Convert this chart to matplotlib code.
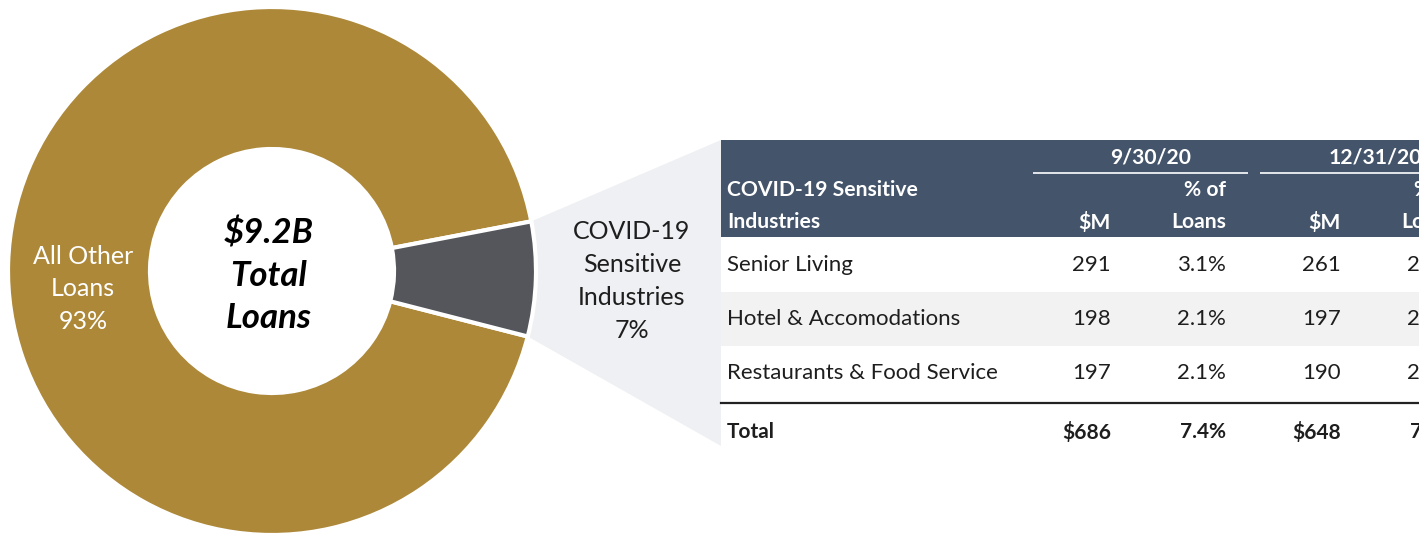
import numpy as np
import matplotlib
matplotlib.use("Agg")
import matplotlib.pyplot as plt
from matplotlib.patches import Polygon, Rectangle

plt.rcParams['font.family'] = ['Lato', 'DejaVu Sans']

# Loan mix (share of total loans, %)
slice_names = ["All Other\nLoans", "COVID-19\nSensitive\nIndustries"]
slice_pct = [93, 7]
center_label = "$9.2B\nTotal\nLoans"

# COVID-19 sensitive industries detail ($M and % of loans)
industries = ["Senior Living", "Hotel & Accomodations", "Restaurants & Food Service"]
periods = ["9/30/20", "12/31/20"]
amount_sep = [291, 198, 197]
pct_sep = [3.1, 2.1, 2.1]
amount_dec = [261, 197, 190]
pct_dec = [2.8, 2.1, 2.0]
total_pct = [7.4, 7.0]

GOLD = "#AD8838"
SLATE = "#54565B"
NAVY = "#44546A"
FAN = "#EFF0F3"
BAND = "#F2F2F2"
INK = "#1E1E1E"

W, H = 1419, 540
fig = plt.figure(figsize=(W / 100, H / 100), dpi=100)
fig.patch.set_facecolor("white")


def pixel_axes():
    a = fig.add_axes([0, 0, 1, 1])
    a.set_xlim(0, W)
    a.set_ylim(H, 0)
    a.axis("off")
    a.patch.set_alpha(0)
    return a


# Background layer (callout fan), donut layer, foreground layer (labels and table)
bg = pixel_axes()

cx, cy, r_out, r_in = 272, 271, 264, 122
pax = fig.add_axes([(cx - r_out) / W, (H - cy - r_out) / H, 2 * r_out / W, 2 * r_out / H])
span = 360 * slice_pct[1] / sum(slice_pct)
start = span * 0.43
wedges, _ = pax.pie(slice_pct, colors=[GOLD, SLATE], startangle=start, counterclock=True,
                    radius=1.0, wedgeprops=dict(width=(r_out - r_in) / r_out,
                                                edgecolor="white", linewidth=3))
pax.set_xlim(-1, 1)
pax.set_ylim(-1, 1)
pax.axis("off")
pax.patch.set_alpha(0)

ax = pixel_axes()

# Callout fan from the highlighted wedge to the table
tbl_left, tbl_top, tbl_bot = 721, 140, 446
w = wedges[1]
t1, t2 = np.deg2rad(w.theta1), np.deg2rad(w.theta2)
p_low = (cx + r_out * np.cos(t1), cy - r_out * np.sin(t1))
p_high = (cx + r_out * np.cos(t2), cy - r_out * np.sin(t2))
bg.add_patch(Polygon([p_high, (tbl_left, tbl_top), (tbl_left, tbl_bot), p_low],
                     closed=True, facecolor=FAN, edgecolor="none", zorder=0))

# Donut labels
ax.text(83, 289, f"{slice_names[0]}\n{slice_pct[0]}%", color="white", fontsize=18,
        ha="center", va="center", linespacing=1.52, zorder=3)
ax.text(632, 281, f"{slice_names[1]}\n{slice_pct[1]}%", color=INK, fontsize=18,
        ha="center", va="center", linespacing=1.52, zorder=3)
ax.text(269, 276, center_label, color="black", fontsize=25, fontweight="bold",
        fontstyle="italic", ha="center", va="center", linespacing=1.4, zorder=3)

# Table header
hdr_top, hdr_bot = 140, 237
ax.add_patch(Rectangle((tbl_left, hdr_top), W - tbl_left + 10, hdr_bot - hdr_top,
                       facecolor=NAVY, edgecolor="none", zorder=1))
col_amt = [1111, 1341]
col_pct = [1226, 1456]
under = [(1033, 1248), (1260, 1470)]
hfs = 15.2
for i, p in enumerate(periods):
    x0, x1 = under[i]
    ax.text((x0 + x1) / 2 + 10, 157, p, color="white", fontsize=hfs, fontweight="bold",
            ha="center", va="center", zorder=2)
    ax.plot([x0, x1], [173, 173], color="white", lw=1.2, zorder=2, solid_capstyle="butt")
    ax.text(col_pct[i], 190, "% of", color="white", fontsize=hfs, fontweight="bold",
            ha="right", va="center", zorder=2)
    ax.text(col_amt[i], 222, "$M", color="white", fontsize=hfs, fontweight="bold",
            ha="right", va="center", zorder=2)
    ax.text(col_pct[i], 222, "Loans", color="white", fontsize=hfs, fontweight="bold",
            ha="right", va="center", zorder=2)
ax.text(727, 190, "COVID-19 Sensitive", color="white", fontsize=hfs, fontweight="bold",
        ha="left", va="center", zorder=2)
ax.text(727, 222, "Industries", color="white", fontsize=hfs, fontweight="bold",
        ha="left", va="center", zorder=2)

# Table body
row_h = 54
row_y = [hdr_bot + row_h * (k + 0.5) for k in range(len(industries))]
bfs = 16
amounts = [amount_sep, amount_dec]
pcts = [pct_sep, pct_dec]
ax.add_patch(Rectangle((tbl_left, hdr_bot), W - tbl_left + 10, tbl_bot - hdr_bot,
                       facecolor="white", edgecolor="none", zorder=0.5))
for k, name in enumerate(industries):
    if k % 2 == 1:
        ax.add_patch(Rectangle((tbl_left, hdr_bot + row_h * k + 1), W - tbl_left + 10, row_h,
                               facecolor=BAND, edgecolor="none", zorder=1))
    ax.text(727, row_y[k] + 1, name, color=INK, fontsize=bfs, ha="left", va="center", zorder=2)
    for i in range(2):
        ax.text(col_amt[i], row_y[k] + 1, f"{amounts[i][k]}", color=INK, fontsize=bfs,
                ha="right", va="center", zorder=2)
        ax.text(col_pct[i], row_y[k] + 1, f"{pcts[i][k]:.1f}%", color=INK, fontsize=bfs,
                ha="right", va="center", zorder=2)

line_y = 403
ax.plot([tbl_left, W + 10], [line_y, line_y], color="#222222", lw=1.6, zorder=2)
ty = 432
tfs = 15
ax.text(727, ty, "Total", color=INK, fontsize=tfs, fontweight="bold", ha="left",
        va="center", zorder=2)
for i in range(2):
    ax.text(col_amt[i], ty, f"${sum(amounts[i])}", color=INK, fontsize=tfs,
            fontweight="bold", ha="right", va="center", zorder=2)
    ax.text(col_pct[i], ty, f"{total_pct[i]:.1f}%", color=INK, fontsize=tfs,
            fontweight="bold", ha="right", va="center", zorder=2)

fig.savefig("out.png", dpi=100, facecolor="white")
